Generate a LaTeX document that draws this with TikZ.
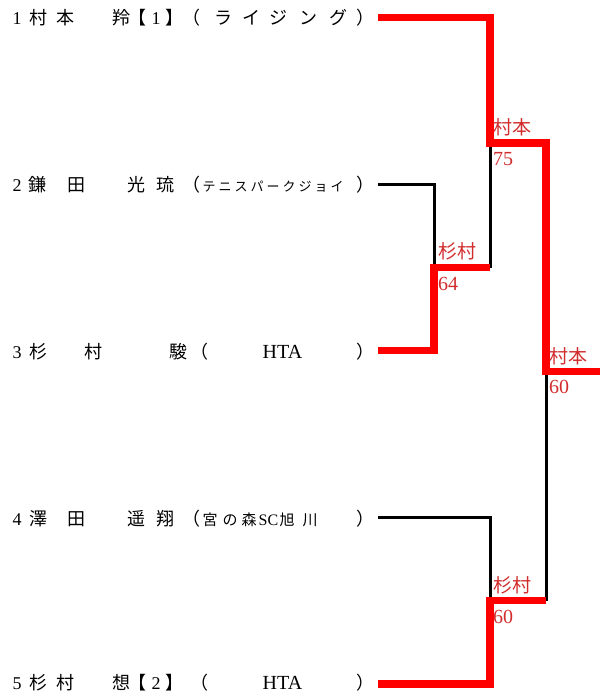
\documentclass[tikz,border=0pt]{standalone}
\usepackage{fontspec}
\setmainfont{Liberation Serif}
\newfontfamily\cjkfont{Noto Sans CJK JP}
\newcommand\jtxt[1]{{\cjkfont #1}}
\newcommand\pc[2]{\rlap{\hskip#1pt\relax#2}}
\definecolor{winred}{RGB}{255,0,0}
\definecolor{labred}{RGB}{210,45,45}
\tikzset{
  row/.style={anchor=base west, inner sep=0pt, font=\fontsize{18}{18}\selectfont},
  lab/.style={anchor=base west, inner sep=0pt, text=labred, font=\fontsize{20}{20}\selectfont},
  labj/.style={lab, font=\fontsize{19}{19}\selectfont},
  lose/.style={draw=black, line width=3pt},
  win/.style={draw=winred, line width=7.5pt},
}
\begin{document}
\begin{tikzpicture}[x=1pt,y=-1pt]
\useasboundingbox (0,0) rectangle (600,699);
% entries
\node[row] (p1) at (0,24) {\pc{12}{1}\pc{29}{\jtxt{村}}\pc{56}{\jtxt{本}}\pc{112}{\jtxt{羚}}\pc{128}{\jtxt{【}}\pc{151}{1}\pc{165}{\jtxt{】}}\pc{182}{\jtxt{（}}\pc{214}{\jtxt{ラ}}\pc{242}{\jtxt{イ}}\pc{269}{\jtxt{ジ}}\pc{299}{\jtxt{ン}}\pc{329}{\jtxt{グ}}\pc{356}{\jtxt{）}}};
\node[row] (p2) at (0,191) {\pc{12}{2}\pc{28}{\jtxt{鎌}}\pc{67}{\jtxt{田}}\pc{127}{\jtxt{光}}\pc{156}{\jtxt{琉}}\pc{182}{\jtxt{（}}\pc{202}{\fontsize{13}{13}\selectfont\jtxt{\makebox[141pt]{テ\hfill ニ\hfill ス\hfill パ\hfill ー\hfill ク\hfill ジ\hfill ョ\hfill イ}}}\pc{356}{\jtxt{）}}};
\node[row] (p3) at (0,358) {\pc{12}{3}\pc{29}{\jtxt{杉}}\pc{84}{\jtxt{村}}\pc{169}{\jtxt{駿}}\pc{190}{\jtxt{（}}\pc{262}{\fontsize{20}{20}\selectfont HTA}\pc{356}{\jtxt{）}}};
\node[row] (p4) at (0,525) {\pc{12}{4}\pc{29}{\jtxt{澤}}\pc{67}{\jtxt{田}}\pc{127}{\jtxt{遥}}\pc{156}{\jtxt{翔}}\pc{182}{\jtxt{（}}\pc{202}{\fontsize{15}{15}\selectfont\jtxt{宮}}\pc{222}{\fontsize{15}{15}\selectfont\jtxt{の}}\pc{241}{\fontsize{15}{15}\selectfont\jtxt{森}}\pc{258}{\fontsize{16}{16}\selectfont SC}\pc{279}{\fontsize{15}{15}\selectfont\jtxt{旭}}\pc{302}{\fontsize{15}{15}\selectfont\jtxt{川}}\pc{356}{\jtxt{）}}};
\node[row] (p5) at (0,689) {\pc{12}{5}\pc{29}{\jtxt{杉}}\pc{56}{\jtxt{村}}\pc{112}{\jtxt{想}}\pc{128}{\jtxt{【}}\pc{151}{2}\pc{165}{\jtxt{】}}\pc{190}{\jtxt{（}}\pc{262}{\fontsize{20}{20}\selectfont HTA}\pc{356}{\jtxt{）}}};
% bracket coordinates
\coordinate (a1) at (378,17.5);
\coordinate (a2) at (378,184);
\coordinate (a3) at (378,350.5);
\coordinate (a4) at (378,517);
\coordinate (a5) at (378,684);
\coordinate (m23) at (434,267.5);
\coordinate (m45) at (490,600.5);
\coordinate (m123) at (490,143);
\coordinate (f) at (546,371.5);
\coordinate (fe) at (600,371.5);
% losers
\draw[lose] (a2) -| (m23);
\draw[lose] (m23 -| m123) -- (m123);
\draw[lose] (a4) -| (m45);
\draw[lose] (m45 -| f) -- (f);
% winners
\draw[win] (a3) -| (m23) -- (m23 -| m123);
\draw[win] (a1) -| (m123) -| (f) -- (fe);
\draw[win] (a5) -| (m45) -- (m45 -| f);
% labels
\node[labj] (w23) at (438,258) {\jtxt{杉村}};
\node[lab] (s23) at (438,290) {64};
\node[labj] (w123) at (493,134) {\jtxt{村本}};
\node[lab] (s123) at (493,165) {75};
\node[labj] (w45) at (493,592) {\jtxt{杉村}};
\node[lab] (s45) at (493,623) {60};
\node[labj] (wf) at (549,363) {\jtxt{村本}};
\node[lab] (sf) at (549,393.5) {60};
\end{tikzpicture}
\end{document}
